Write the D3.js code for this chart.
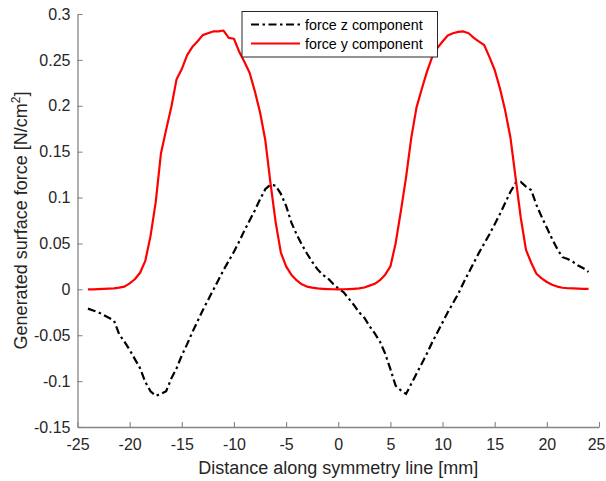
<!DOCTYPE html>
<html>
<head>
<meta charset="utf-8">
<script src="https://cdn.jsdelivr.net/npm/d3@7"></script>
<style>
  html, body { margin: 0; padding: 0; background: #fff; }
  svg { display: block; font-family: "Liberation Sans", Arial, sans-serif; }
</style>
</head>
<body>
<svg id="chart" width="606" height="481"></svg>
<script>
// Position along the symmetry line [mm]
const distance = [
  -24, -23.5, -23, -22.5, -22, -21.5, -21, -20.5, -20, -19.5, -19, -18.5, -18, -17.5, -17, -16.5,
  -16, -15.5, -15, -14.5, -14, -13.5, -13, -12.5, -12, -11.5, -11, -10.5, -10, -9.5, -9, -8.5,
  -8, -7.5, -7, -6.5, -6, -5.5, -5, -4.5, -4, -3.5, -3, -2.5, -2, -1.5, -1, -0.5,
  0, 0.5, 1, 1.5, 2, 2.5, 3, 3.5, 4, 4.5, 5, 5.5, 6, 6.5, 7, 7.5,
  8, 8.5, 9, 9.5, 10, 10.5, 11, 11.5, 12, 12.5, 13, 13.5, 14, 14.5, 15, 15.5,
  16, 16.5, 17, 17.5, 18, 18.5, 19, 19.5, 20, 20.5, 21, 21.5, 22, 22.5, 23, 23.5, 24
];

// z component of the generated surface force [N/cm^2]
const forceZ = [
  -0.021, -0.023, -0.025, -0.028, -0.031, -0.034, -0.049, -0.057, -0.066, -0.076, -0.086, -0.101, -0.111, -0.116, -0.114, -0.111,
  -0.097, -0.086, -0.072, -0.060, -0.047, -0.035, -0.023, -0.012, -0.001, 0.010, 0.021, 0.031, 0.041, 0.052, 0.064, 0.075,
  0.086, 0.098, 0.109, 0.114, 0.113, 0.104, 0.091, 0.073, 0.060, 0.049, 0.039, 0.030, 0.022, 0.016, 0.012, 0.006,
  0.001, -0.003, -0.010, -0.017, -0.025, -0.031, -0.040, -0.048, -0.057, -0.070, -0.087, -0.105, -0.110, -0.114, -0.103, -0.092,
  -0.081, -0.070, -0.058, -0.047, -0.036, -0.025, -0.015, -0.005, 0.007, 0.018, 0.029, 0.040, 0.050, 0.060, 0.071, 0.082,
  0.094, 0.106, 0.116, 0.117, 0.112, 0.108, 0.092, 0.079, 0.067, 0.055, 0.044, 0.035, 0.033, 0.030, 0.026, 0.023, 0.019
];

// y component of the generated surface force [N/cm^2]
const forceY = [
  0, 0, 0.0003, 0.0005, 0.0008, 0.001, 0.0018, 0.003, 0.0065, 0.011, 0.018, 0.031, 0.058, 0.095, 0.148, 0.174,
  0.199, 0.229, 0.240, 0.255, 0.264, 0.270, 0.277, 0.279, 0.281, 0.281, 0.282, 0.274, 0.273, 0.259, 0.248, 0.236,
  0.216, 0.193, 0.163, 0.116, 0.073, 0.040, 0.025, 0.016, 0.010, 0.0055, 0.003, 0.0018, 0.001, 0.0006, 0.0003, 0.0001,
  0, 0.0001, 0.0003, 0.0006, 0.001, 0.002, 0.004, 0.006, 0.010, 0.016, 0.025, 0.050, 0.085, 0.122, 0.165, 0.198,
  0.218, 0.237, 0.253, 0.263, 0.270, 0.2765, 0.279, 0.2805, 0.281, 0.279, 0.274, 0.270, 0.266, 0.253, 0.239, 0.219,
  0.195, 0.166, 0.122, 0.078, 0.043, 0.029, 0.017, 0.012, 0.008, 0.005, 0.003, 0.0017, 0.0012, 0.001, 0.0008, 0.0006, 0.0005
];

const xTicks = [-25, -20, -15, -10, -5, 0, 5, 10, 15, 20, 25];
const yTicks = [-0.15, -0.1, -0.05, 0, 0.05, 0.1, 0.15, 0.2, 0.25, 0.3];

const seriesNames = ["force z component", "force y component"];

const svg = d3.select("#chart");
const plotLeft = 77.5, plotRight = 599, plotTop = 14, plotBottom = 427;
const width = +svg.attr("width");

const x = d3.scaleLinear().domain([-25, 25]).range([plotLeft, plotRight]);
const y = d3.scaleLinear().domain([-0.15, 0.3]).range([plotBottom, plotTop]);

const axisColor = "#858585";
const textColor = "#262626";

// x axis (ticks point inward)
const gx = svg.append("g")
  .attr("transform", `translate(0,${plotBottom})`)
  .call(d3.axisBottom(x).tickValues(xTicks).tickSizeInner(-5).tickSizeOuter(0)
    .tickFormat(d => String(d)));
gx.select(".domain").attr("stroke", axisColor).attr("stroke-width", 1.3);
gx.selectAll(".tick line").attr("stroke", axisColor).attr("stroke-width", 1.1);
gx.selectAll(".tick text").attr("fill", textColor).attr("font-size", 16)
  .attr("y", 6).attr("dy", "1.05em");
// keep the last label inside the svg edge
gx.selectAll(".tick text").filter(d => d === xTicks[xTicks.length - 1])
  .attr("text-anchor", "end").attr("x", width - 1 - x(xTicks[xTicks.length - 1]));

// y axis (ticks point inward)
const gy = svg.append("g")
  .attr("transform", `translate(${plotLeft},0)`)
  .call(d3.axisLeft(y).tickValues(yTicks).tickSizeInner(-5).tickSizeOuter(0)
    .tickFormat(d => String(+d.toFixed(2))));
gy.select(".domain").attr("stroke", axisColor).attr("stroke-width", 1.3);
gy.selectAll(".tick line").attr("stroke", axisColor).attr("stroke-width", 1.1);
gy.selectAll(".tick text").attr("fill", textColor).attr("font-size", 16).attr("x", -7);

// axis titles
svg.append("text")
  .attr("x", (plotLeft + plotRight) / 2).attr("y", 474)
  .attr("text-anchor", "middle").attr("font-size", 18).attr("fill", textColor)
  .text("Distance along symmetry line [mm]");

const yt = svg.append("text")
  .attr("transform", `translate(27,${(plotTop + plotBottom) / 2}) rotate(-90)`)
  .attr("text-anchor", "middle").attr("font-size", 18).attr("fill", textColor);
yt.append("tspan").text("Generated surface force [N/cm");
yt.append("tspan").attr("dy", -7).attr("font-size", 12).text("2");
yt.append("tspan").attr("dy", 7).text("]");

// curves
const line = d3.line().x((d, i) => x(distance[i])).y(d => y(d));
svg.append("path")
  .datum(forceZ)
  .attr("d", line)
  .attr("fill", "none").attr("stroke", "#000").attr("stroke-width", 2.2)
  .attr("stroke-dasharray", "8,3.5,2.5,3.5");

svg.append("path")
  .datum(forceY)
  .attr("d", line)
  .attr("fill", "none").attr("stroke", "#ff0000").attr("stroke-width", 2.2)
  .attr("stroke-linejoin", "round");

// legend
const lg = svg.append("g");
lg.append("rect")
  .attr("x", 242).attr("y", 11.5).attr("width", 195.5).attr("height", 45.5)
  .attr("fill", "#fff").attr("stroke", "#262626").attr("stroke-width", 1);
const styles = [
  { stroke: "#000", dash: "8,3.5,2.5,3.5" },
  { stroke: "#ff0000", dash: null }
];
seriesNames.forEach((name, i) => {
  const yy = 24.5 + i * 19;
  lg.append("line")
    .attr("x1", 251).attr("x2", 300).attr("y1", yy).attr("y2", yy)
    .attr("stroke", styles[i].stroke).attr("stroke-width", 2.2)
    .attr("stroke-dasharray", styles[i].dash);
  lg.append("text")
    .attr("x", 305).attr("y", yy).attr("dy", "0.35em")
    .attr("font-size", 14.3).attr("fill", "#000")
    .text(name);
});
</script>
</body>
</html>
